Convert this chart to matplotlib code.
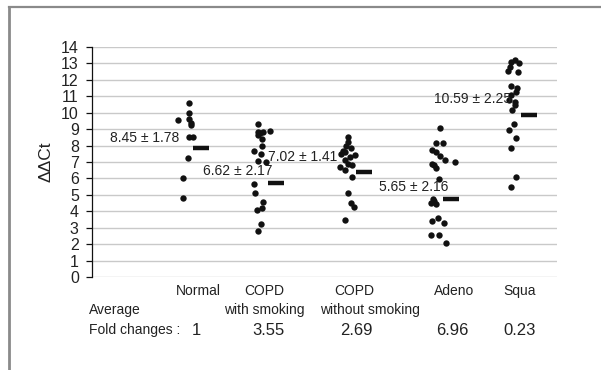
import matplotlib
matplotlib.use("Agg")
import matplotlib.pyplot as plt
from matplotlib.lines import Line2D

plt.rcParams['font.family'] = ['Liberation Sans', 'DejaVu Sans']

# ---------------- data ----------------
categories = ["Normal", "COPD with smoking", "COPD without smoking", "Adeno", "Squa"]
label_line1 = ["Normal", "COPD", "COPD", "Adeno", "Squa"]
label_line2 = ["", "with smoking", "without smoking", "", ""]
fold_changes = ["1", "3.55", "2.69", "6.96", "0.23"]
mean_labels = ["8.45 \u00b1 1.78", "6.62 \u00b1 2.17", "7.02 \u00b1 1.41",
               "5.65 \u00b1 2.16", "10.59 \u00b1 2.25"]

normal_vals = [10.57, 9.98, 9.55, 9.6, 9.4, 9.25, 8.55, 8.5, 7.22, 6.0, 4.83]
normal_jit = [0.01, 0.01, -0.13, 0.01, 0.03, 0.04, 0.01, 0.06, 0.0, -0.06, -0.07]

copd_s_vals = [9.31, 8.9, 8.8, 8.74, 8.84, 8.64, 8.4, 7.97, 7.69, 7.49, 7.08, 6.98,
               5.66, 5.09, 4.58, 4.18, 4.08, 3.23, 2.80]
copd_s_jit = [-0.02, 0.13, -0.02, 0.01, 0.05, -0.01, 0.03, 0.03, -0.06, 0.02, -0.01, 0.09,
              -0.06, -0.05, 0.05, 0.03, -0.03, 0.02, -0.01]

copd_ns_vals = [8.54, 8.2, 7.95, 7.85, 7.7, 7.5, 7.6, 7.43, 7.3, 7.12, 6.85, 6.7, 6.5,
                6.8, 6.1, 5.12, 4.48, 4.25, 3.5]
copd_ns_jit = [0.01, 0.01, -0.01, 0.05, -0.05, -0.08, -0.03, 0.1, 0.04, -0.03, 0.01, -0.09,
               -0.03, 0.06, 0.06, 0.01, 0.05, 0.09, -0.03]

adeno_vals = [9.07, 8.14, 8.14, 7.73, 7.63, 7.37, 7.1, 6.98, 6.85, 6.8, 6.62, 5.96,
              4.75, 4.6, 4.5, 4.42, 3.58, 3.38, 3.3, 2.55, 2.55, 2.1]
adeno_jit = [0.025, -0.025, 0.07, -0.075, -0.016, 0.025, 0.087, 0.22, -0.07, -0.04, -0.016,
             0.012, -0.056, -0.04, -0.08, -0.02, 0.004, -0.066, 0.08, -0.08, 0.012, 0.11]

squa_vals = [13.2, 13.1, 13.0, 12.8, 12.55, 12.45, 11.6, 11.5, 11.25, 11.1, 10.75, 10.65,
             10.45, 10.15, 9.3, 8.92, 8.44, 7.88, 6.07, 5.45]
squa_jit = [0.025, -0.03, 0.08, -0.04, -0.06, 0.066, -0.03, 0.054, 0.04, -0.03, -0.046,
            0.025, 0.025, -0.016, 0.012, -0.044, 0.044, -0.03, 0.044, -0.03]

mean_bar = [7.88, 5.74, 6.39, 4.73, 9.84]

# ---------------- layout ----------------
values = [normal_vals, copd_s_vals, copd_ns_vals, adeno_vals, squa_vals]
jitters = [normal_jit, copd_s_jit, copd_ns_jit, adeno_jit, squa_jit]
cat_pos = [1.2, 2.085, 3.18, 4.31, 5.25]
bar_off = [0.16, 0.21, 0.21, 0.165, 0.205]
label1_x = [1.322, 2.145, 3.268, 4.515, 5.339]
label2_x = [1.322, 2.145, 3.468, 4.515, 5.339]
fold_x = [1.297, 2.195, 3.293, 4.49, 5.339]
mlab_x = [0.66, 1.815, 2.63, 4.01, 4.746]
mlab_y = [8.46, 6.45, 7.32, 5.48, 10.83]

txt_col = "#222222"

fig = plt.figure(figsize=(6.01, 3.70), dpi=100)
ax = fig.add_axes([92 / 601, 93 / 370, 465 / 601, 230 / 370])

ax.set_xlim(0, 5.8)
ax.set_ylim(0, 14)
ax.set_yticks(range(0, 15))
ax.set_xticks([])
ax.grid(axis="y", color="#c9c9c9", linewidth=1.0)
ax.set_axisbelow(True)
for s in ["top", "right", "bottom"]:
    ax.spines[s].set_visible(False)
ax.spines["left"].set_color("#111111")
ax.spines["left"].set_linewidth(0.9)
ax.tick_params(axis="y", length=4.5, width=0.9, color="#111111", pad=5,
               labelsize=11.5, labelcolor=txt_col)
ax.set_ylabel("\u0394\u0394Ct", fontsize=12.5, color=txt_col, labelpad=5)

for i in range(len(categories)):
    xs = [cat_pos[i] + j for j in jitters[i]]
    ax.scatter(xs, values[i], s=21, color="#111111", zorder=3, linewidths=0)
    c = cat_pos[i] + bar_off[i]
    ax.hlines(mean_bar[i], c - 0.1, c + 0.1, color="#111111", linewidth=3.2, zorder=3)
    ax.text(mlab_x[i], mlab_y[i], mean_labels[i], ha="center", va="center",
            fontsize=10, color=txt_col, zorder=4)
    ax.text(label1_x[i], -0.061, label_line1[i], transform=ax.get_xaxis_transform(),
            ha="center", va="center", fontsize=10, color=txt_col, clip_on=False)
    if label_line2[i]:
        ax.text(label2_x[i], -0.143, label_line2[i], transform=ax.get_xaxis_transform(),
                ha="center", va="center", fontsize=10, color=txt_col, clip_on=False)
    ax.text(fold_x[i], -0.232, fold_changes[i], transform=ax.get_xaxis_transform(),
            ha="center", va="center", fontsize=12, color=txt_col, clip_on=False)

ax.text(-0.04, -0.143, "Average", transform=ax.get_xaxis_transform(),
        ha="left", va="center", fontsize=10, color=txt_col, clip_on=False)
ax.text(-0.04, -0.232, "Fold changes :", transform=ax.get_xaxis_transform(),
        ha="left", va="center", fontsize=10, color=txt_col, clip_on=False)

# outer frame (top and left edges)
fig.add_artist(Line2D([8.5 / 601, 1.0], [1 - 6.5 / 370, 1 - 6.5 / 370],
                      transform=fig.transFigure, color="#8a8a8a", linewidth=1.6))
fig.add_artist(Line2D([9 / 601, 9 / 601], [0, 1 - 6.5 / 370],
                      transform=fig.transFigure, color="#8a8a8a", linewidth=2.0))

fig.savefig("out.png", dpi=100)
